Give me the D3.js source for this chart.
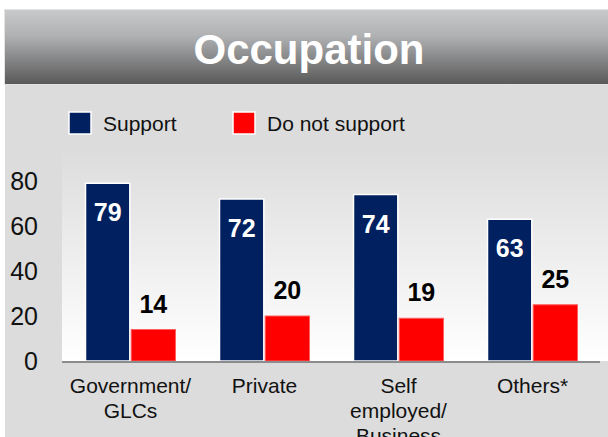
<!DOCTYPE html>
<html>
<head>
<meta charset="utf-8">
<title>Occupation</title>
<script src="https://cdn.jsdelivr.net/npm/d3@7"></script>
<style>
  body { margin: 0; background: #fff; }
  svg { display: block; font-family: "Liberation Sans", Arial, sans-serif; }
</style>
</head>
<body>
<div id="chart"></div>
<script>
var categories = [["Government/", "GLCs"], ["Private"], ["Self", "employed/", "Business"], ["Others*"]];
var seriesNames = ["Support", "Do not support"];
var support = [79, 72, 74, 63];
var notSupport = [14, 20, 19, 25];
var yTicks = [0, 20, 40, 60, 80];

var width = 608, height = 437;
var colors = ["#002060", "#ff0000"];

var svg = d3.select("#chart").append("svg")
  .attr("width", width)
  .attr("height", height);

var defs = svg.append("defs");
var bannerGrad = defs.append("linearGradient").attr("id", "banner")
  .attr("x1", 0).attr("y1", 0).attr("x2", 0).attr("y2", 1);
bannerGrad.append("stop").attr("offset", "0%").attr("stop-color", "#c9cacc");
bannerGrad.append("stop").attr("offset", "35%").attr("stop-color", "#b0b1b3");
bannerGrad.append("stop").attr("offset", "100%").attr("stop-color", "#585858");

var plotGrad = defs.append("linearGradient").attr("id", "plotbg")
  .attr("x1", 0).attr("y1", 0).attr("x2", 0).attr("y2", 1);
plotGrad.append("stop").attr("offset", "0%").attr("stop-color", "#dcdcdc");
plotGrad.append("stop").attr("offset", "100%").attr("stop-color", "#ffffff");

// panel + banner
svg.append("rect").attr("x", 5).attr("y", 85).attr("width", width - 5).attr("height", height - 85)
  .attr("fill", "#dcdcdc");
svg.append("rect").attr("x", 4.5).attr("y", 9.5).attr("width", width - 4).attr("height", 75)
  .attr("fill", "url(#banner)").attr("stroke", "#e4e4e4").attr("stroke-width", 1);
svg.append("text").attr("x", 309).attr("y", 64)
  .attr("text-anchor", "middle").attr("fill", "#fff")
  .attr("font-size", 42).attr("font-weight", "bold")
  .text("Occupation");

var margin = { left: 63.5, right: 8.5, top: 147, bottom: 76 };
var x0 = d3.scaleBand().domain(d3.range(categories.length))
  .range([margin.left, width - margin.right]).paddingInner(0).paddingOuter(0);
var x1 = d3.scaleBand().domain([0, 1]).range([22, 112]).paddingInner(0.03);
var y = d3.scaleLinear().domain([0, 80]).range([361, 181]);

svg.append("rect").attr("x", 62).attr("y", margin.top)
  .attr("width", width - 62).attr("height", 361 - margin.top)
  .attr("fill", "url(#plotbg)");

// legend
var legend = svg.append("g");
var legendX = [69, 233];
seriesNames.forEach(function(name, i) {
  var g = legend.append("g").attr("transform", "translate(" + legendX[i] + ",112)");
  g.append("rect").attr("width", 22).attr("height", 22)
    .attr("fill", colors[i]).attr("stroke", "#fff").attr("stroke-width", 1.5);
  g.append("text").attr("x", 34).attr("y", 19).attr("font-size", 21).attr("fill", "#111")
    .text(name);
});

// y axis labels
svg.append("g").selectAll("text").data(yTicks).enter().append("text")
  .attr("x", 38).attr("y", function(d) { return y(d) + 9; })
  .attr("text-anchor", "end").attr("font-size", 25).attr("fill", "#111")
  .text(function(d) { return d; });

// bars
var groups = svg.append("g").selectAll("g").data(categories).enter().append("g")
  .attr("transform", function(d, i) { return "translate(" + x0(i) + ",0)"; });

groups.append("rect")
  .attr("x", x1(0)).attr("width", x1.bandwidth())
  .attr("y", function(d, i) { return y(support[i]); })
  .attr("height", function(d, i) { return y(0) - y(support[i]); })
  .attr("fill", colors[0]).attr("stroke", "#fff").attr("stroke-width", 1.5);

groups.append("rect")
  .attr("x", x1(1)).attr("width", x1.bandwidth())
  .attr("y", function(d, i) { return y(notSupport[i]); })
  .attr("height", function(d, i) { return y(0) - y(notSupport[i]); })
  .attr("fill", colors[1]).attr("stroke", "#ff6060").attr("stroke-width", 1);

groups.append("text")
  .attr("x", x1(0) + x1.bandwidth() / 2)
  .attr("y", function(d, i) { return y(support[i]) + 38; })
  .attr("text-anchor", "middle").attr("font-size", 25).attr("font-weight", "bold")
  .attr("fill", "#fff")
  .text(function(d, i) { return support[i]; });

groups.append("text")
  .attr("x", x1(1) + x1.bandwidth() / 2)
  .attr("y", function(d, i) { return y(notSupport[i]) - 17; })
  .attr("text-anchor", "middle").attr("font-size", 25).attr("font-weight", "bold")
  .attr("fill", "#000")
  .text(function(d, i) { return notSupport[i]; });

// category labels (third line is clipped by the frame, as in the original)
groups.append("text")
  .attr("text-anchor", "middle").attr("font-size", 21).attr("fill", "#111")
  .selectAll("tspan").data(function(d) { return d; }).enter().append("tspan")
  .attr("x", x0.bandwidth() / 2)
  .attr("y", function(d, j) { return 393 + j * 25; })
  .text(function(d) { return d; });

// x axis line
svg.append("line").attr("x1", 62).attr("x2", 600)
  .attr("y1", 362).attr("y2", 362)
  .attr("stroke", "#8c8c8c").attr("stroke-width", 2);
</script>
</body>
</html>
